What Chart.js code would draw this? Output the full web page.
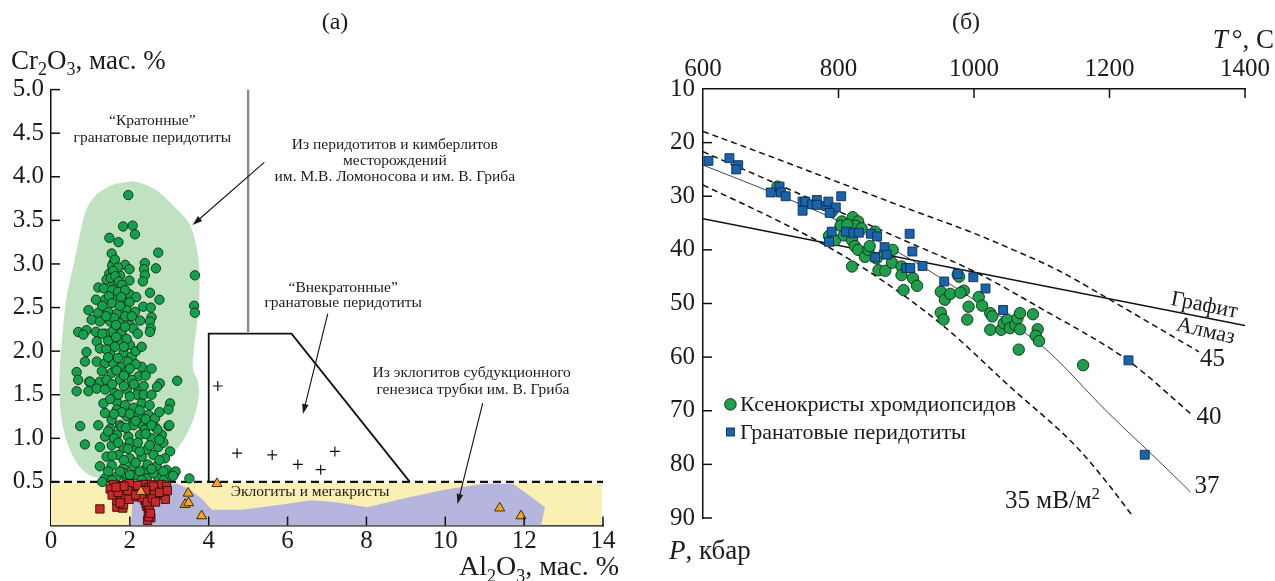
<!DOCTYPE html>
<html><head><meta charset="utf-8">
<script src="https://cdn.jsdelivr.net/npm/chart.js@4.4.0/dist/chart.umd.min.js"></script>
<style>
html,body{margin:0;padding:0;background:#fff;}
body{width:1275px;height:581px;position:relative;overflow:hidden;}
.pane{position:absolute;top:0;}
canvas{display:block;}
</style></head><body>
<div class="pane" style="left:0;width:640px;height:581px"><canvas id="cA" width="640" height="581"></canvas></div>
<div class="pane" style="left:640px;width:635px;height:581px"><canvas id="cB" width="635" height="581"></canvas></div>
<script>
// ---------------- Panel (а): Cr2O3 vs Al2O3 ----------------
const alTicks = [0, 2, 4, 6, 8, 10, 12, 14];
const crTicks = [0, 0.5, 1.0, 1.5, 2.0, 2.5, 3.0, 3.5, 4.0, 4.5, 5.0];

// garnets from peridotites and kimberlites (green circles)
const garnetGreen = [
 [1.96,3.79],[1.83,3.43],[2.07,3.44],[2.13,3.34],[1.48,3.30],[1.71,3.25],[2.72,3.13],[3.65,2.87],[3.63,2.52],[3.65,2.44],
 [0.69,2.22],[2.76,1.63],[3.20,1.66],[0.65,1.76],[0.69,1.67],[0.65,1.54],[0.97,1.65],[0.95,1.54],[3.02,1.40],[2.98,1.33],
 [0.74,1.14],[0.86,0.93],[2.98,1.14],[3.14,0.61],
 [1.54,3.12],[1.58,3.01],[2.38,3.01],[1.88,2.99],[1.99,2.94],[2.36,2.94],[2.66,2.95],[1.67,2.94],[1.48,2.89],[1.75,2.87],
 [2.38,2.87],[1.99,2.81],[2.33,2.80],[1.41,2.82],[1.58,2.78],[1.20,2.73],[1.34,2.72],[1.65,2.72],[2.51,2.67],[2.00,2.65],
 [2.16,2.62],[1.14,2.59],[1.37,2.59],[1.61,2.63],[1.84,2.57],[2.75,2.59],[1.99,2.56],[2.34,2.51],[2.53,2.50],[0.95,2.47],
 [1.20,2.44],[1.45,2.45],[1.67,2.43],[1.92,2.47],[2.13,2.45],[2.55,2.39],[2.51,2.34],[1.03,2.36],[1.24,2.34],[1.50,2.34],
 [1.75,2.32],[2.00,2.30],[2.26,2.35],[2.53,2.26],[0.90,2.24],[1.14,2.22],[1.54,2.22],[1.79,2.21],[2.09,2.26],
 [0.82,2.19],[1.16,2.11],[1.37,2.20],[1.75,2.13],[2.00,2.07],[2.51,2.22],[0.90,1.99],[1.24,2.03],[1.50,1.99],[1.84,1.98],
 [2.05,1.94],[0.86,1.88],[1.16,1.88],[1.37,1.86],[1.58,1.86],[1.79,1.82],[2.30,1.82],[2.55,1.80],[1.29,1.77],[1.54,1.75],
 [1.92,1.77],[2.22,1.71],[0.99,1.65],[1.24,1.65],[1.41,1.67],[1.75,1.67],[2.05,1.67],[1.16,1.57],[1.37,1.56],[1.62,1.52],
 [1.92,1.56],[2.22,1.56],[1.33,1.40],[1.67,1.42],[1.88,1.38],[2.09,1.35],[2.30,1.40],[1.37,1.29],[1.67,1.33],[1.92,1.25],
 [2.47,1.27],[2.64,1.23],[1.54,1.21],[1.75,1.15],[2.09,1.19],[2.34,1.14],
 [1.20,1.15],[1.50,1.11],[1.79,1.13],[2.09,1.15],[2.38,1.10],[2.64,1.13],[3.00,1.15],[1.37,1.02],[1.67,1.04],[1.96,1.02],
 [2.26,1.04],[2.55,1.00],[2.81,1.04],[1.24,0.90],[1.54,0.92],[1.84,0.89],[2.13,0.90],[2.43,0.87],[2.72,0.90],[3.02,0.85],
 [1.41,0.79],[1.71,0.81],[2.00,0.77],[2.30,0.79],[2.60,0.81],[2.89,0.77],[1.24,0.68],[1.54,0.69],[1.84,0.66],[2.09,0.68],
 [2.38,0.64],[2.68,0.68],[2.93,0.64],[3.16,0.62],[1.37,0.54],[1.67,0.56],[1.92,0.54],[2.17,0.58],[2.43,0.54],[2.72,0.55],
 [2.97,0.56],[3.51,0.54],
 [2.69,1.59],[2.18,1.50],[2.40,1.05],[1.60,1.00],[2.00,0.95],[2.70,1.10],[1.30,0.50],[3.10,0.57],[2.20,1.25],[1.45,1.08],
 [2.85,0.95],[2.60,0.60],[1.85,0.60],[2.25,0.85],
 [1.55,2.98],[1.62,3.05],[1.70,2.96],[1.58,2.92],[1.52,2.84],[1.63,2.86],[1.72,2.80],[1.80,2.76],[1.55,2.70],[1.70,2.68],
 [1.88,2.70],[1.47,2.63],[1.78,2.62],[1.30,2.52],[1.55,2.55],[1.75,2.52],[1.88,2.40],[1.60,2.38],[1.40,2.40],[2.05,2.40],
 [1.65,2.30],[1.88,2.28],[2.20,2.20],[1.30,2.20],[1.45,2.12],[1.65,2.16],[1.92,2.14],[1.85,2.05],[1.62,2.05],[1.40,2.02],
 [2.15,2.00],[2.30,2.05],[1.45,1.93],[1.70,1.92],[1.95,1.88],[2.15,1.85],[1.66,1.78],[1.85,1.72],[2.40,1.72],[2.00,1.80],
 [1.55,1.62],[1.85,1.60],[2.10,1.62],[2.35,1.60],[1.70,1.50],[2.00,1.48],[2.35,1.50],[2.55,1.50],[1.50,1.45],[1.80,1.30],
 [2.00,1.28],[2.25,1.32],[2.50,1.38],[1.60,1.28],[2.15,1.20],[2.40,1.22],[1.90,1.12],[2.55,1.15],[2.75,1.30],[1.70,0.95],
 [1.95,0.88],[2.20,0.95],[2.50,0.92],[2.75,0.98],[1.55,0.80],[1.85,0.75],[2.15,0.72],[2.45,0.70],[2.75,0.75],[1.45,0.62],
 [1.75,0.62],[2.25,0.62],[2.55,0.65],[2.85,0.62],[2.00,0.58],[2.30,0.52],[1.55,0.52],[2.85,0.52]
];
// low-Cr garnets (red squares)
const garnetRed = [
 [1.24,0.19],[1.67,0.21],[1.82,0.20],[1.62,0.39],[1.67,0.29],[1.79,0.35],[1.71,0.45],[1.92,0.47],[2.05,0.41],[2.09,0.33],
 [1.88,0.33],[1.84,0.24],[1.75,0.26],[1.58,0.47],[2.34,0.47],[2.47,0.43],[2.55,0.47],[2.72,0.43],[2.80,0.47],[2.68,0.35],
 [2.85,0.37],[2.93,0.45],[2.34,0.37],[2.38,0.29],[2.43,0.22],[2.47,0.16],[2.51,0.12],[2.53,0.09],[2.41,0.25],[2.49,0.20],
 [2.30,0.32],[2.22,0.41],[2.00,0.48],[2.45,0.06],[2.48,0.10],[2.52,0.14],[2.44,0.27],[2.57,0.31],[1.50,0.42],[2.90,0.30],
 [2.62,0.40],[1.95,0.40],[1.55,0.35],[1.70,0.38],[1.98,0.30],[2.15,0.35],[2.60,0.45],[2.75,0.38],[2.95,0.40],[1.85,0.45],
 [2.20,0.46],[2.65,0.27],[2.40,0.40],[1.65,0.44]
];
// off-craton garnet peridotites (crosses)
const offCratonPlus = [[4.23,1.60],[4.72,0.83],[5.61,0.81],[6.26,0.70],[6.84,0.64],[7.20,0.85]];
// eclogites of subduction genesis (orange triangles)
const eclogiteTri = [[4.21,0.48],[2.28,0.39],[3.48,0.37],[3.40,0.24],[3.49,0.26],[3.82,0.11],[11.38,0.20],[11.92,0.11]];

// fields and boundaries
const cratonicField = [
 [2.03,3.95],[2.28,3.93],[2.69,3.84],[3.10,3.67],[3.51,3.46],[3.72,3.12],[3.77,2.77],[3.72,2.39],[3.62,2.00],[3.60,1.79],
 [3.72,1.66],[3.75,1.49],[3.62,1.23],[3.36,0.98],[3.10,0.83],[2.80,0.72],[1.36,0.55],[1.00,0.57],[0.65,0.72],[0.39,0.98],
 [0.24,1.32],[0.22,1.75],[0.29,2.17],[0.39,2.60],[0.59,3.03],[0.75,3.37],[0.90,3.63],[1.16,3.80],[1.57,3.91],[2.03,3.95]
];
const megacrystField = [[0,0],[0,0.484],[13.97,0.484],[13.97,0],[0,0]];
const subductionField = [
 [2.03,0],[2.06,0.25],[2.18,0.42],[2.59,0.47],[3.21,0.48],[3.51,0.42],[3.82,0.31],[4.08,0.18],[4.85,0.18],[5.87,0.24],
 [6.59,0.29],[7.20,0.27],[8.02,0.21],[8.94,0.31],[9.97,0.41],[10.99,0.48],[11.71,0.48],[12.02,0.38],[12.53,0.21],[12.43,0],[2.03,0]
];
const cratonDivider = [[5.0,2.22],[5.0,5.0]];
const offCratonBox = [[4.0,0.5],[4.0,2.2],[6.1,2.2],[9.1,0.5]];
const chromeLimit = [[0,0.5],[14,0.5]];

// ---------------- Panel (б): P-T ----------------
const tTicks = [600, 800, 1000, 1200, 1400];
const pTicks = [10, 20, 30, 40, 50, 60, 70, 80, 90];
const diopsideT = [710,790,805,821,829,825,803,813,834,786,795,808,820,824,829,839,844,854,846,856,868,859,869,879,880,820,893,893,910,916,896,951,957,965,985,980,976,978,1007,1012,992,951,955,990,1024,1027,1024,1040,1044,1049,1053,1061,1064,1068,1068,1066,1087,1094,1091,1096,1161];
const diopsideP = [28.2,32.9,34.7,33.9,34.7,35.5,35.5,35.3,36.0,37.4,38.2,37.3,38.2,39.3,40.0,41.3,40.0,36.6,39.3,41.6,40.6,43.8,43.9,42.4,40.0,43.1,43.1,44.7,45.3,46.7,47.5,47.8,49.3,48.2,47.6,48.0,44.6,45.0,48.8,50.4,50.6,51.7,53.0,53.0,51.8,52.4,54.9,54.9,53.7,53.0,54.6,54.0,52.8,51.8,54.8,58.6,52.0,54.8,56.0,57.0,61.5];
const peridotiteT = [608,639,652,649,700,713,715,722,747,751,747,761,768,768,782,785,796,787,804,790,786,811,822,830,848,857,854,868,871,905,909,900,906,924,956,976,999,1017,1043,1228,1252];
const peridotiteP = [23.4,22.9,24.2,25.0,29.3,28.2,29.3,30.0,31.0,31.0,32.7,31.5,30.7,31.6,31.8,31.0,32.1,33.1,30.0,36.6,38.5,36.6,36.9,36.8,37.0,37.5,41.4,39.5,40.9,37.0,40.3,43.4,43.4,43.0,45.9,44.5,45.1,47.2,51.2,60.6,78.2];
const graphiteDiamond = [[600,34.2],[1400,54.1]];
const geotherm45 = [[600,17.9],[700,22.6],[800,27.4],[900,32.2],[1000,36.9],[1058,40.0],[1124,43.8],[1213,50.2],[1282,55.3],[1332,59.0]];
const geotherm40 = [[600,21.7],[700,27.2],[800,32.8],[900,38.4],[1000,44.0],[1100,51.0],[1228,60.7],[1323,70.9]];
const geotherm37 = [[600,24.2],[700,29.2],[800,34.6],[900,41.3],[1000,49.3],[1102,58.1],[1199,70.5],[1282,80.5],[1320,85.2]];
const geotherm35 = [[600,27.9],[700,33.9],[780,39.1],[860,45.3],[956,54.3],[1053,65.5],[1151,76.7],[1200,84.0],[1235,89.8]];

// ---------------- helpers ----------------
const FAM = '"Liberation Serif","Times New Roman",serif';
const INK = '#1b1b1b';
const xy = a => a.map(p => ({x: p[0], y: p[1]}));
const zipXY = (xs, ys) => xs.map((x, i) => ({x, y: ys[i]}));

function drawRich(ctx, parts, x, y, align, size) {
  const fontFor = s => (s === 'i' ? 'italic ' : '') + ((s === 'sub' || s === 'sup') ? Math.round(size * 0.66) : size) + 'px ' + FAM;
  let w = 0;
  parts.forEach(p => { ctx.font = fontFor(p[1]); w += ctx.measureText(p[0]).width + (p[2] || 0); });
  let cx = align === 'right' ? x - w : align === 'center' ? x - w / 2 : x;
  ctx.textAlign = 'left'; ctx.textBaseline = 'alphabetic';
  parts.forEach(p => {
    ctx.font = fontFor(p[1]);
    const dy = p[1] === 'sub' ? size * 0.24 : p[1] === 'sup' ? -size * 0.36 : 0;
    ctx.fillText(p[0], cx, y + dy);
    cx += ctx.measureText(p[0]).width + (p[2] || 0);
  });
}
function arrow(ctx, x1, y1, x2, y2) {
  const a = Math.atan2(y2 - y1, x2 - x1), L = 10, W = 3.3;
  ctx.beginPath(); ctx.moveTo(x1, y1); ctx.lineTo(x2 - 0.8 * L * Math.cos(a), y2 - 0.8 * L * Math.sin(a)); ctx.stroke();
  ctx.beginPath(); ctx.moveTo(x2, y2);
  ctx.lineTo(x2 - L * Math.cos(a) + W * Math.sin(a), y2 - L * Math.sin(a) - W * Math.cos(a));
  ctx.lineTo(x2 - L * Math.cos(a) - W * Math.sin(a), y2 - L * Math.sin(a) + W * Math.cos(a));
  ctx.closePath(); ctx.fill();
}
// inward tick marks, drawn from the library's scales
const innerTicks = {
  id: 'innerTicks',
  afterDraw(chart) {
    const ctx = chart.ctx, a = chart.chartArea, L = 9;
    ctx.save(); ctx.strokeStyle = '#111'; ctx.lineWidth = 1.5;
    Object.values(chart.scales).forEach(s => {
      s.ticks.forEach(t => {
        if (t.value === s.min) return;
        const p = s.getPixelForValue(t.value);
        ctx.beginPath();
        if (s.position === 'left') { ctx.moveTo(a.left, p); ctx.lineTo(a.left + L, p); }
        else if (s.position === 'bottom') { ctx.moveTo(p, a.bottom); ctx.lineTo(p, a.bottom - L); }
        else if (s.position === 'top') { ctx.moveTo(p, a.top); ctx.lineTo(p, a.top + L); }
        ctx.stroke();
      });
    });
    ctx.restore();
  }
};
const tickFont = {family: FAM, size: 25};
const noGrid = {display: false, drawTicks: false};

// ---------------- chart (а) ----------------
const notesA = [
  ['“Кратонные”', 2.57, 4.64], ['гранатовые перидотиты', 2.57, 4.45],
  ['Из перидотитов и кимберлитов', 8.72, 4.36], ['месторождений', 8.72, 4.18],
  ['им. М.В. Ломоносова и им. В. Гриба', 8.72, 4.0],
  ['“Внекратонные”', 7.41, 2.73], ['гранатовые перидотиты', 7.41, 2.55],
  ['Из эклогитов субдукционного', 10.67, 1.75], ['генезиса трубки им. В. Гриба', 10.7, 1.56],
  ['Эклогиты и мегакристы', 6.57, 0.387]
];
const arrowsA = [[5.41, 4.165, 3.59, 3.447], [7.02, 2.43, 6.39, 1.28], [10.95, 1.405, 10.31, 0.247]];
const decorA = {
  id: 'decorA',
  afterDraw(chart) {
    const ctx = chart.ctx, sx = chart.scales.x, sy = chart.scales.y;
    ctx.save();
    ctx.fillStyle = INK;
    ctx.font = '15.5px ' + FAM; ctx.textAlign = 'center'; ctx.textBaseline = 'middle';
    notesA.forEach(n => ctx.fillText(n[0], sx.getPixelForValue(n[1]), sy.getPixelForValue(n[2])));
    ctx.strokeStyle = '#111'; ctx.lineWidth = 1.1;
    arrowsA.forEach(r => arrow(ctx, sx.getPixelForValue(r[0]), sy.getPixelForValue(r[1]), sx.getPixelForValue(r[2]), sy.getPixelForValue(r[3])));
    ctx.font = '24px ' + FAM; ctx.textAlign = 'center'; ctx.textBaseline = 'alphabetic';
    ctx.fillText('(а)', 335, 29);
    drawRich(ctx, [['Cr', 'n'], ['2', 'sub'], ['O', 'n'], ['3', 'sub'], [', мас. %', 'n']], 11, 69, 'left', 27);
    drawRich(ctx, [['Al', 'n'], ['2', 'sub'], ['O', 'n'], ['3', 'sub'], [', мас. %', 'n']], 619, 575, 'right', 28);
    ctx.restore();
  }
};
const polyDS = (data, color, order, extra) => Object.assign({type: 'line', data: xy(data), fill: 'shape', backgroundColor: color, borderColor: 'rgba(0,0,0,0)', borderWidth: 0, pointRadius: 0, order}, extra || {});
const lineDS = (data, color, width, order, extra) => Object.assign({type: 'line', data: xy(data), fill: false, borderColor: color, borderWidth: width, pointRadius: 0, order}, extra || {});

new Chart(document.getElementById('cA'), {
  type: 'scatter',
  data: {datasets: [
    polyDS(megacrystField, '#faf0b4', 30),
    polyDS(subductionField, '#b5b5de', 29),
    polyDS(cratonicField, '#c0e2c0', 28, {tension: 0.3}),
    lineDS(cratonDivider, '#8c8c8c', 2.4, 20),
    lineDS(offCratonBox, '#111', 1.8, 19),
    lineDS(chromeLimit, '#111', 2.2, 18, {borderDash: [8, 5]}),
    {label: 'green', data: xy(garnetGreen), pointStyle: 'circle', pointRadius: 4.7, backgroundColor: '#17a04c', borderColor: '#0b2e16', borderWidth: 0.9, order: 6},
    {label: 'red', data: xy(garnetRed), pointStyle: 'rect', pointRadius: 5.9, backgroundColor: '#c22a2c', borderColor: '#3e0a0a', borderWidth: 0.9, order: 5},
    {label: 'plus', data: xy(offCratonPlus), pointStyle: 'cross', pointRadius: 5, borderColor: '#111', borderWidth: 1.2, order: 4},
    {label: 'tri', data: xy(eclogiteTri), pointStyle: 'triangle', pointRadius: 5.8, backgroundColor: '#f5a51e', borderColor: '#2a2000', borderWidth: 0.9, order: 3}
  ]},
  options: {
    responsive: false, animation: false, devicePixelRatio: 1,
    layout: {padding: {left: 0, right: 37, top: 89.6, bottom: 0}},
    plugins: {legend: {display: false}, tooltip: {enabled: false}},
    scales: {
      x: {type: 'linear', position: 'bottom', min: 0, max: 14,
        afterFit: s => { s.height = 55.5; },
        afterBuildTicks: s => { s.ticks = alTicks.map(v => ({value: v})); },
        ticks: {font: tickFont, color: INK, padding: 1, maxRotation: 0, autoSkip: false, callback: v => String(v)},
        grid: noGrid, border: {display: true, color: '#111', width: 1.5}},
      y: {type: 'linear', position: 'left', min: 0, max: 5,
        afterFit: s => { s.width = 51; },
        afterBuildTicks: s => { s.ticks = crTicks.map(v => ({value: v})); },
        ticks: {font: tickFont, color: INK, padding: 7, autoSkip: false, callback: v => v === 0 ? '' : v.toFixed(1)},
        grid: noGrid, border: {display: true, color: '#111', width: 1.5}}
    }
  },
  plugins: [innerTicks, decorA]
});

// ---------------- chart (б) ----------------
const decorB = {
  id: 'decorB',
  afterDraw(chart) {
    const ctx = chart.ctx, sx = chart.scales.x, sy = chart.scales.y;
    const X = v => sx.getPixelForValue(v), Y = v => sy.getPixelForValue(v);
    ctx.save();
    ctx.fillStyle = INK;
    ctx.textBaseline = 'middle'; ctx.textAlign = 'center';
    const rot = (txt, t, p, deg, size) => { ctx.save(); ctx.translate(X(t), Y(p)); ctx.rotate(deg * Math.PI / 180); ctx.font = size + 'px ' + FAM; ctx.fillText(txt, 0, 0); ctx.restore(); };
    rot('Графит', 1340, 50.4, 11, 22);
    rot('Алмаз', 1342, 55.2, 13, 22);
    ctx.font = '25px ' + FAM;
    ctx.fillText('45', X(1352), Y(60.5));
    ctx.fillText('40', X(1347), Y(71.2));
    ctx.fillText('37', X(1344), Y(84.2));
    drawRich(ctx, [['35 мВ/м', 'n'], ['2', 'sup']], X(1116), Y(86.6) + 8, 'center', 25);
    // legend
    const ds = chart.data.datasets;
    const gd = ds.find(d => d.label === 'Ксенокристы хромдиопсидов');
    const bd = ds.find(d => d.label === 'Гранатовые перидотиты');
    ctx.lineWidth = 0.9;
    ctx.beginPath(); ctx.arc(90.4, 404.4, 5.8, 0, Math.PI * 2); ctx.fillStyle = gd.backgroundColor; ctx.fill(); ctx.strokeStyle = gd.borderColor; ctx.stroke();
    ctx.fillStyle = bd.backgroundColor; ctx.fillRect(86.4, 428, 8, 8); ctx.strokeStyle = bd.borderColor; ctx.strokeRect(86.4, 428, 8, 8);
    ctx.fillStyle = INK; ctx.font = '22px ' + FAM; ctx.textAlign = 'left'; ctx.textBaseline = 'middle';
    ctx.fillText(gd.label, 100, 405);
    ctx.fillText(bd.label, 100, 433);
    // titles
    ctx.font = '24px ' + FAM; ctx.textAlign = 'center'; ctx.textBaseline = 'alphabetic';
    ctx.fillText('(б)', 326, 29);
    drawRich(ctx, [['T', 'i', 4], ['°, C', 'n']], 634, 48, 'right', 27);
    drawRich(ctx, [['P', 'i'], [', кбар', 'n']], 29, 559, 'left', 27);
    ctx.restore();
  }
};
const dash = [6, 4];
new Chart(document.getElementById('cB'), {
  type: 'scatter',
  data: {datasets: [
    lineDS(graphiteDiamond, '#111', 1.5, 20),
    lineDS(geotherm45, '#111', 1.5, 19, {borderDash: dash, cubicInterpolationMode: 'monotone'}),
    lineDS(geotherm40, '#111', 1.5, 18, {borderDash: dash, cubicInterpolationMode: 'monotone'}),
    lineDS(geotherm37, '#333', 0.9, 17, {cubicInterpolationMode: 'monotone'}),
    lineDS(geotherm35, '#111', 1.5, 16, {borderDash: dash, cubicInterpolationMode: 'monotone'}),
    {label: 'Ксенокристы хромдиопсидов', data: zipXY(diopsideT, diopsideP), pointStyle: 'circle', pointRadius: 5.7, backgroundColor: '#1f9e4b', borderColor: '#0b2e16', borderWidth: 0.9, order: 6},
    {label: 'Гранатовые перидотиты', data: zipXY(peridotiteT, peridotiteP), pointStyle: 'rect', pointRadius: 6.3, backgroundColor: '#1964aa', borderColor: '#0c2d55', borderWidth: 0.9, order: 5}
  ]},
  options: {
    responsive: false, animation: false, devicePixelRatio: 1,
    layout: {padding: {left: 0, right: 24.5, top: 0, bottom: 63}},
    plugins: {legend: {display: false}, tooltip: {enabled: false}},
    scales: {
      x: {type: 'linear', position: 'top', min: 600, max: 1400,
        afterFit: s => { s.height = 89; },
        afterBuildTicks: s => { s.ticks = tTicks.map(v => ({value: v})); },
        ticks: {font: tickFont, color: INK, padding: 5, maxRotation: 0, autoSkip: false, callback: v => String(v)},
        grid: noGrid, border: {display: true, color: '#111', width: 1.5}},
      y: {type: 'linear', position: 'left', min: 10, max: 90, reverse: true,
        afterFit: s => { s.width = 63; },
        afterBuildTicks: s => { s.ticks = pTicks.map(v => ({value: v})); },
        ticks: {font: tickFont, color: INK, padding: 8, autoSkip: false, callback: v => String(v)},
        grid: noGrid, border: {display: true, color: '#111', width: 1.5}}
    }
  },
  plugins: [innerTicks, decorB]
});
</script>
</body></html>
